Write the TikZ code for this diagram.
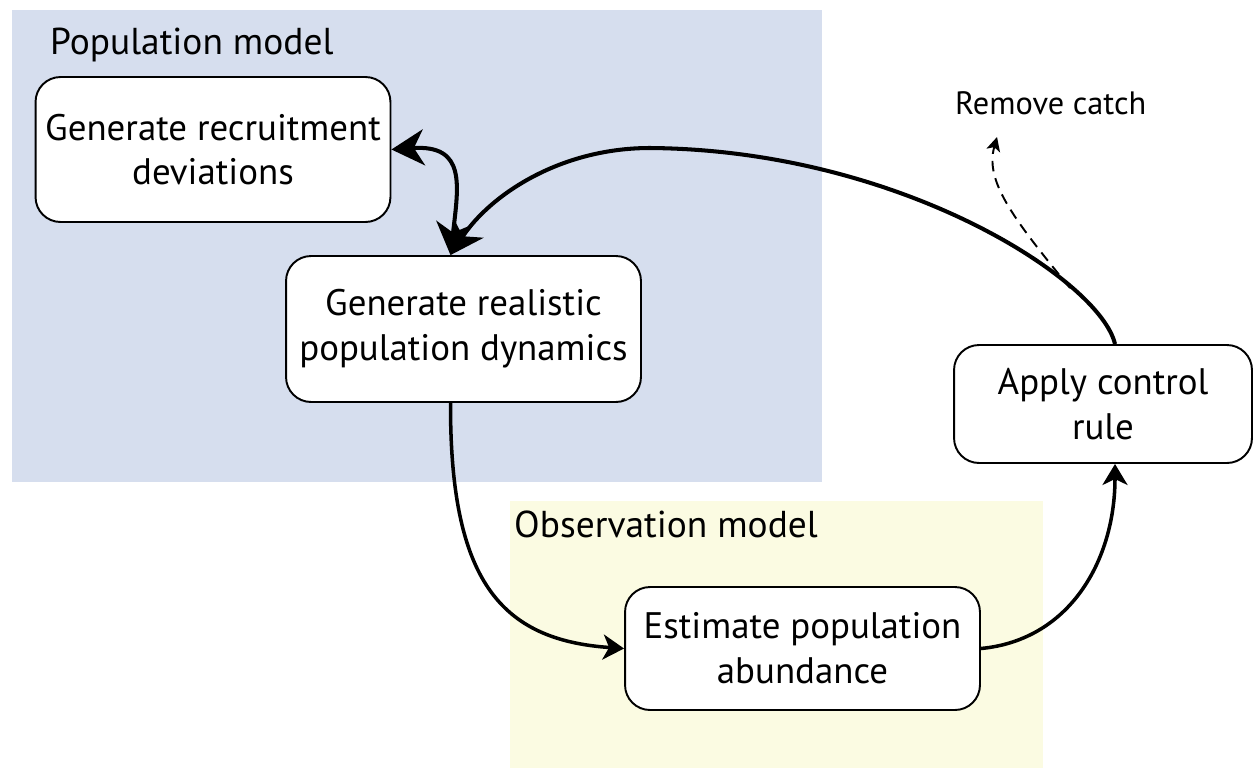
\documentclass[tikz,border=0pt]{standalone}
\usepackage{fontspec}
\setmainfont{PT Sans}
\usetikzlibrary{arrows.meta}
\definecolor{popblue}{RGB}{214,222,238}
\definecolor{obsyellow}{RGB}{251,251,226}
\begin{document}
\begin{tikzpicture}[x=0.02cm,y=-0.02cm,
  box/.style={draw,line width=1.1pt,fill=white,rounded corners=0.5cm,align=center,
    font=\fontsize{21}{25.5}\selectfont},
  big/.style={line width=2.3pt,-{Stealth[length=0.65cm,width=0.72cm,inset=0.2cm]}},
  mid/.style={line width=2pt,-{Stealth[length=0.42cm,width=0.5cm,inset=0.12cm]}},
  title/.style={anchor=west,font=\fontsize{21.3}{25}\selectfont}]
\useasboundingbox (0,0) rectangle (1253,768);
\fill[popblue] (12,10) rectangle (822,482);
\fill[obsyellow] (510,501) rectangle (1043,768);
\node[title] (pop) at (44,45) {Population model};
\node[title] (obs) at (508,524) {Observation model};
\node[anchor=west,font=\fontsize{18.4}{22}\selectfont] (rem) at (949,103) {Remove catch};
\node[box,minimum width=7.1cm,minimum height=2.9cm] (rec) at (213,149.5) {Generate recruitment\\deviations};
\node[box,minimum width=7.1cm,minimum height=2.92cm] (dyn) at (463.5,329) {Generate realistic\\population dynamics};
\node[box,minimum width=5.96cm,minimum height=2.36cm] (ctl) at (1103,404) {Apply control\\rule};
\node[box,minimum width=7.1cm,minimum height=2.46cm] (est) at (802.5,648.5) {Estimate population\\abundance};
\coordinate (catch) at (1070,288);
\coordinate (out) at (997,137);
\draw[big,{Stealth[length=0.65cm,width=0.72cm,inset=0.2cm]}-{Stealth[length=0.65cm,width=0.72cm,inset=0.2cm]}] (rec.east) .. controls +(75,-5) and +(8,-70) .. ([xshift=-0.26cm]dyn.north);
\draw[big] ([xshift=0.24cm]ctl.north) .. controls (1100,280) and (900,150) .. (650,148)
  .. controls (560,148) and (490,195) .. ([xshift=-0.26cm]dyn.north);
\draw[mid] ([xshift=-0.26cm]dyn.south) .. controls (450,580) and (500,640) .. (est.west);
\draw[mid] (est.east) .. controls (1070,640) and (1115,560) .. ([xshift=0.24cm]ctl.south);
\draw[line width=1.1pt,dashed,dash pattern=on 6pt off 4pt,-{Stealth[length=0.28cm,width=0.28cm,inset=0.07cm]}] (catch) .. controls (1010,215) and (985,180) .. (out);
\end{tikzpicture}
\end{document}
